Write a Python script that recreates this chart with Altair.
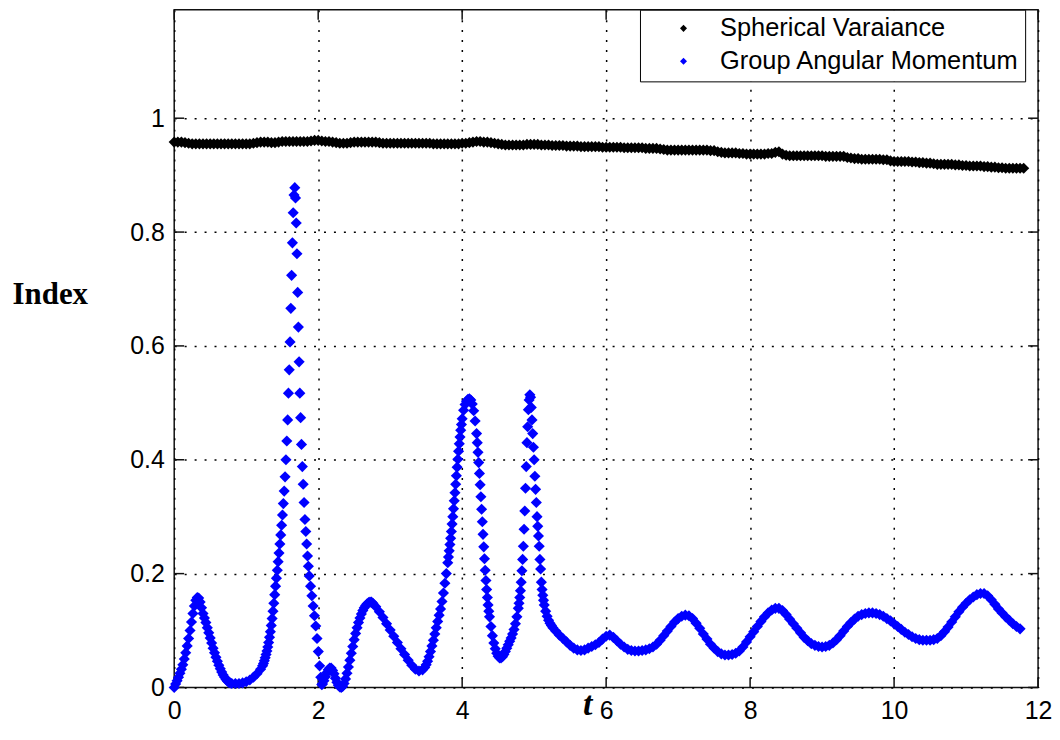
import altair as alt
import pandas as pd

# ---------------- data ----------------
SERIES = ["Spherical Varaiance", "Group Angular Momentum"]
SERIES_COLORS = ["#000000", "#0000ff"]
X_TICKS = [0, 2, 4, 6, 8, 10, 12]
Y_TICKS = [0, 0.2, 0.4, 0.6, 0.8, 1.0]

# Spherical Varaiance (black), pairs (t, value)
SV_POINTS = [
    (0.00, 0.958), (0.05, 0.958), (0.10, 0.958), (0.15, 0.957), (0.20, 0.956), (0.25, 0.955), (0.30, 0.955), (0.35, 0.955),
    (0.40, 0.955), (0.45, 0.955), (0.50, 0.955), (0.55, 0.955), (0.60, 0.955), (0.65, 0.955), (0.70, 0.955), (0.75, 0.955),
    (0.80, 0.955), (0.85, 0.955), (0.90, 0.955), (0.95, 0.955), (1.00, 0.955), (1.05, 0.955), (1.10, 0.956), (1.15, 0.957),
    (1.20, 0.958), (1.25, 0.958), (1.30, 0.958), (1.35, 0.957), (1.40, 0.957), (1.45, 0.958), (1.50, 0.959), (1.55, 0.959),
    (1.60, 0.959), (1.65, 0.959), (1.70, 0.959), (1.75, 0.959), (1.80, 0.959), (1.85, 0.959), (1.90, 0.960), (1.95, 0.961),
    (2.00, 0.961), (2.05, 0.960), (2.10, 0.959), (2.15, 0.959), (2.20, 0.958), (2.25, 0.957), (2.30, 0.956), (2.35, 0.956),
    (2.40, 0.956), (2.45, 0.957), (2.50, 0.958), (2.55, 0.958), (2.60, 0.958), (2.65, 0.958), (2.70, 0.958), (2.75, 0.958),
    (2.80, 0.958), (2.85, 0.957), (2.90, 0.956), (2.95, 0.956), (3.00, 0.956), (3.05, 0.956), (3.10, 0.956), (3.15, 0.956),
    (3.20, 0.956), (3.25, 0.956), (3.30, 0.956), (3.35, 0.956), (3.40, 0.956), (3.45, 0.956), (3.50, 0.956), (3.55, 0.956),
    (3.60, 0.955), (3.65, 0.955), (3.70, 0.955), (3.75, 0.955), (3.80, 0.955), (3.85, 0.955), (3.90, 0.955), (3.95, 0.955),
    (4.00, 0.956), (4.05, 0.956), (4.10, 0.957), (4.15, 0.958), (4.20, 0.959), (4.25, 0.959), (4.30, 0.958), (4.35, 0.958),
    (4.40, 0.957), (4.45, 0.956), (4.50, 0.955), (4.55, 0.954), (4.60, 0.953), (4.65, 0.953), (4.70, 0.953), (4.75, 0.953),
    (4.80, 0.953), (4.85, 0.953), (4.90, 0.954), (4.95, 0.954), (5.00, 0.954), (5.05, 0.954), (5.10, 0.953), (5.15, 0.953),
    (5.20, 0.953), (5.25, 0.952), (5.30, 0.952), (5.35, 0.952), (5.40, 0.952), (5.45, 0.951), (5.50, 0.951), (5.55, 0.951),
    (5.60, 0.951), (5.65, 0.950), (5.70, 0.950), (5.75, 0.950), (5.80, 0.950), (5.85, 0.950), (5.90, 0.950), (5.95, 0.949),
    (6.00, 0.949), (6.05, 0.949), (6.10, 0.949), (6.15, 0.949), (6.20, 0.949), (6.25, 0.948), (6.30, 0.948), (6.35, 0.948),
    (6.40, 0.948), (6.45, 0.948), (6.50, 0.948), (6.55, 0.947), (6.60, 0.947), (6.65, 0.947), (6.70, 0.947), (6.75, 0.946),
    (6.80, 0.945), (6.85, 0.944), (6.90, 0.944), (6.95, 0.944), (7.00, 0.944), (7.05, 0.944), (7.10, 0.944), (7.15, 0.944),
    (7.20, 0.944), (7.25, 0.944), (7.30, 0.944), (7.35, 0.944), (7.40, 0.944), (7.45, 0.943), (7.50, 0.943), (7.55, 0.941),
    (7.60, 0.940), (7.65, 0.939), (7.70, 0.939), (7.75, 0.939), (7.80, 0.939), (7.85, 0.938), (7.90, 0.938), (7.95, 0.937),
    (8.00, 0.937), (8.05, 0.937), (8.10, 0.937), (8.15, 0.937), (8.20, 0.937), (8.25, 0.938), (8.30, 0.938), (8.35, 0.940),
    (8.40, 0.941), (8.45, 0.937), (8.50, 0.935), (8.55, 0.934), (8.60, 0.934), (8.65, 0.934), (8.70, 0.934), (8.75, 0.934),
    (8.80, 0.934), (8.85, 0.934), (8.90, 0.934), (8.95, 0.934), (9.00, 0.934), (9.05, 0.933), (9.10, 0.933), (9.15, 0.933),
    (9.20, 0.933), (9.25, 0.933), (9.30, 0.933), (9.35, 0.931), (9.40, 0.930), (9.45, 0.929), (9.50, 0.929), (9.55, 0.928),
    (9.60, 0.928), (9.65, 0.928), (9.70, 0.928), (9.75, 0.928), (9.80, 0.928), (9.85, 0.927), (9.90, 0.927), (9.95, 0.925),
    (10.00, 0.924), (10.05, 0.924), (10.10, 0.924), (10.15, 0.924), (10.20, 0.924), (10.25, 0.923), (10.30, 0.923), (10.35, 0.922),
    (10.40, 0.922), (10.45, 0.921), (10.50, 0.921), (10.55, 0.920), (10.60, 0.919), (10.65, 0.919), (10.70, 0.919), (10.75, 0.919),
    (10.80, 0.919), (10.85, 0.918), (10.90, 0.918), (10.95, 0.917), (11.00, 0.917), (11.05, 0.916), (11.10, 0.916), (11.15, 0.916),
    (11.20, 0.916), (11.25, 0.915), (11.30, 0.915), (11.35, 0.914), (11.40, 0.914), (11.45, 0.913), (11.50, 0.913), (11.55, 0.912),
    (11.60, 0.912), (11.65, 0.912), (11.70, 0.912), (11.75, 0.912), (11.80, 0.912),
]

# Group Angular Momentum (blue), pairs (t, value), in segments
GAM_SEG1 = [
    (0.00, 0.000), (0.02, 0.006), (0.04, 0.012), (0.06, 0.018), (0.08, 0.025),
    (0.10, 0.032), (0.12, 0.040), (0.14, 0.050), (0.16, 0.061), (0.18, 0.073),
    (0.20, 0.086), (0.22, 0.100), (0.24, 0.115), (0.26, 0.130), (0.28, 0.143),
    (0.30, 0.153), (0.32, 0.158), (0.34, 0.157), (0.36, 0.150), (0.38, 0.140),
    (0.40, 0.130), (0.42, 0.122), (0.44, 0.114), (0.46, 0.105), (0.48, 0.096),
    (0.50, 0.087), (0.52, 0.078), (0.54, 0.069), (0.56, 0.061), (0.58, 0.053),
    (0.60, 0.046), (0.62, 0.039), (0.64, 0.033), (0.66, 0.027), (0.68, 0.022),
    (0.70, 0.018), (0.72, 0.014), (0.74, 0.011), (0.76, 0.009), (0.78, 0.008),
    (0.80, 0.007), (0.85, 0.007), (0.90, 0.007), (0.95, 0.008), (1.00, 0.010),
    (1.05, 0.013), (1.10, 0.018), (1.15, 0.024), (1.20, 0.032),
]
GAM_SEG2 = [
    (1.228, 0.038), (1.240, 0.042), (1.252, 0.047), (1.264, 0.052), (1.276, 0.058),
    (1.288, 0.064), (1.300, 0.071), (1.312, 0.079), (1.324, 0.088), (1.336, 0.098),
    (1.348, 0.109), (1.360, 0.121), (1.372, 0.134), (1.384, 0.148), (1.396, 0.163),
    (1.408, 0.178), (1.420, 0.192), (1.432, 0.206), (1.444, 0.221), (1.456, 0.236),
    (1.468, 0.252), (1.480, 0.268), (1.492, 0.285), (1.504, 0.303), (1.516, 0.323),
    (1.528, 0.345), (1.540, 0.370), (1.552, 0.400), (1.564, 0.433), (1.576, 0.470),
    (1.587, 0.517), (1.598, 0.558), (1.609, 0.607), (1.620, 0.666), (1.631, 0.724),
    (1.642, 0.781), (1.653, 0.834), (1.664, 0.865), (1.675, 0.878),
    (1.685, 0.860), (1.695, 0.816), (1.705, 0.762), (1.715, 0.694), (1.725, 0.633),
    (1.735, 0.572), (1.745, 0.517), (1.756, 0.474), (1.768, 0.427), (1.780, 0.388),
    (1.792, 0.357), (1.804, 0.325), (1.816, 0.295), (1.828, 0.274), (1.840, 0.252),
    (1.852, 0.231), (1.864, 0.213), (1.876, 0.196), (1.894, 0.178), (1.912, 0.161),
    (1.930, 0.143), (1.948, 0.126), (1.966, 0.108), (1.984, 0.086), (2.002, 0.063),
    (2.020, 0.038), (2.036, 0.018), (2.050, 0.005),
]
GAM_SEG3 = [
    (2.06, 0.006), (2.08, 0.012), (2.10, 0.019), (2.12, 0.026), (2.14, 0.031),
    (2.16, 0.034), (2.18, 0.034), (2.20, 0.030), (2.22, 0.024), (2.24, 0.016),
    (2.26, 0.009), (2.28, 0.004), (2.30, 0.001), (2.32, 0.000), (2.34, 0.002),
    (2.36, 0.007), (2.38, 0.015), (2.40, 0.025), (2.42, 0.036), (2.44, 0.048),
    (2.46, 0.060), (2.48, 0.072), (2.50, 0.084), (2.52, 0.095), (2.54, 0.105),
    (2.56, 0.114), (2.58, 0.122), (2.60, 0.129), (2.62, 0.135), (2.64, 0.140),
    (2.66, 0.144), (2.68, 0.147), (2.70, 0.149), (2.72, 0.150), (2.74, 0.150),
    (2.76, 0.148), (2.80, 0.142), (2.85, 0.133), (2.90, 0.123), (2.95, 0.112),
    (3.00, 0.101), (3.05, 0.090), (3.10, 0.079), (3.15, 0.068), (3.20, 0.058),
    (3.25, 0.048), (3.30, 0.039), (3.35, 0.032), (3.40, 0.029), (3.45, 0.031),
]
GAM_SEG4 = [
    (3.48, 0.035), (3.50, 0.040), (3.52, 0.046), (3.54, 0.054), (3.56, 0.063),
    (3.58, 0.073), (3.60, 0.083), (3.62, 0.094), (3.64, 0.105), (3.66, 0.116),
    (3.68, 0.127), (3.70, 0.138), (3.72, 0.151), (3.74, 0.166), (3.76, 0.183),
    (3.78, 0.200), (3.80, 0.219), (3.81, 0.229), (3.82, 0.240), (3.83, 0.251),
    (3.84, 0.262), (3.85, 0.274), (3.86, 0.287), (3.87, 0.300), (3.88, 0.314),
    (3.89, 0.328), (3.90, 0.342), (3.91, 0.357), (3.92, 0.372), (3.93, 0.387),
    (3.94, 0.401), (3.95, 0.415), (3.96, 0.428), (3.97, 0.440), (3.98, 0.452),
    (3.99, 0.462), (4.00, 0.472), (4.02, 0.487), (4.04, 0.497), (4.06, 0.503),
    (4.08, 0.506), (4.10, 0.507), (4.12, 0.505), (4.14, 0.498), (4.16, 0.486),
    (4.18, 0.468), (4.20, 0.446), (4.21, 0.430), (4.22, 0.413), (4.23, 0.395),
    (4.24, 0.376), (4.25, 0.356), (4.26, 0.335), (4.27, 0.313), (4.28, 0.291),
    (4.29, 0.269), (4.30, 0.247), (4.31, 0.226), (4.32, 0.206), (4.33, 0.188),
    (4.34, 0.172), (4.35, 0.158), (4.36, 0.145), (4.37, 0.134), (4.38, 0.124),
    (4.40, 0.107), (4.42, 0.091), (4.44, 0.078), (4.46, 0.068), (4.48, 0.060),
    (4.50, 0.055), (4.52, 0.052), (4.54, 0.052), (4.56, 0.054),
]
GAM_SEG5 = [
    (4.58, 0.058), (4.60, 0.063), (4.62, 0.069), (4.64, 0.075), (4.66, 0.081),
    (4.68, 0.087), (4.70, 0.094), (4.72, 0.102), (4.74, 0.112), (4.76, 0.124),
    (4.78, 0.139), (4.79, 0.148), (4.80, 0.158), (4.81, 0.170), (4.82, 0.185),
    (4.83, 0.205), (4.84, 0.225), (4.85, 0.248), (4.86, 0.278), (4.87, 0.310),
    (4.88, 0.350), (4.89, 0.388), (4.90, 0.430), (4.91, 0.458), (4.92, 0.488),
    (4.93, 0.505), (4.94, 0.514), (4.95, 0.510), (4.96, 0.492), (4.97, 0.470),
    (4.98, 0.446), (4.99, 0.422), (5.00, 0.400), (5.01, 0.371), (5.02, 0.348),
    (5.03, 0.325), (5.04, 0.300), (5.05, 0.283), (5.06, 0.266), (5.07, 0.248),
    (5.08, 0.225), (5.09, 0.208), (5.10, 0.185), (5.11, 0.172), (5.12, 0.162),
    (5.13, 0.153), (5.14, 0.145), (5.16, 0.134), (5.18, 0.125), (5.20, 0.118),
    (5.22, 0.113), (5.24, 0.109), (5.26, 0.105),
]
GAM_SEG6 = [
    (5.30, 0.099), (5.35, 0.092), (5.40, 0.086), (5.45, 0.080), (5.50, 0.074),
    (5.55, 0.069), (5.60, 0.066), (5.65, 0.065), (5.70, 0.066), (5.75, 0.069),
    (5.80, 0.072), (5.85, 0.075), (5.90, 0.079), (5.95, 0.085), (6.00, 0.090),
    (6.05, 0.092), (6.10, 0.088), (6.15, 0.082), (6.20, 0.076), (6.25, 0.071),
    (6.30, 0.067), (6.35, 0.065), (6.40, 0.064), (6.45, 0.064), (6.50, 0.065),
    (6.55, 0.066), (6.60, 0.068), (6.65, 0.071), (6.70, 0.076), (6.75, 0.083),
    (6.80, 0.091), (6.85, 0.099), (6.90, 0.107), (6.95, 0.115), (7.00, 0.121),
    (7.05, 0.125), (7.10, 0.127), (7.15, 0.126), (7.20, 0.121), (7.25, 0.113),
    (7.30, 0.104), (7.35, 0.094), (7.40, 0.085), (7.45, 0.076), (7.50, 0.069),
    (7.55, 0.063), (7.60, 0.059), (7.65, 0.057), (7.70, 0.057), (7.75, 0.058),
    (7.80, 0.060), (7.85, 0.064), (7.90, 0.071), (7.95, 0.080), (8.00, 0.089),
    (8.05, 0.098), (8.10, 0.107), (8.15, 0.116), (8.20, 0.124), (8.25, 0.131),
    (8.30, 0.136), (8.35, 0.139), (8.40, 0.139), (8.45, 0.135), (8.50, 0.128),
    (8.55, 0.120), (8.60, 0.112), (8.65, 0.104), (8.70, 0.096), (8.75, 0.088),
    (8.80, 0.082), (8.85, 0.077), (8.90, 0.074), (8.95, 0.072), (9.00, 0.071),
]
GAM_SEG7 = [
    (9.05, 0.072), (9.10, 0.074), (9.15, 0.078), (9.20, 0.084), (9.25, 0.091),
    (9.30, 0.099), (9.35, 0.107), (9.40, 0.114), (9.45, 0.120), (9.50, 0.125),
    (9.55, 0.128), (9.60, 0.130), (9.65, 0.131), (9.70, 0.131), (9.75, 0.130),
    (9.80, 0.128), (9.85, 0.125), (9.90, 0.121), (9.95, 0.117), (10.00, 0.112),
    (10.05, 0.107), (10.10, 0.102), (10.15, 0.097), (10.20, 0.093), (10.25, 0.089),
    (10.30, 0.086), (10.35, 0.084), (10.40, 0.083), (10.45, 0.083), (10.50, 0.083),
    (10.55, 0.084), (10.60, 0.086), (10.65, 0.091), (10.70, 0.098), (10.75, 0.106),
    (10.80, 0.115), (10.85, 0.124), (10.90, 0.133), (10.95, 0.141), (11.00, 0.148),
    (11.05, 0.154), (11.10, 0.159), (11.15, 0.163), (11.20, 0.165), (11.25, 0.165),
    (11.30, 0.161), (11.35, 0.154), (11.40, 0.146), (11.45, 0.138), (11.50, 0.131),
    (11.55, 0.124), (11.60, 0.118), (11.65, 0.112), (11.70, 0.107), (11.75, 0.103),
]
GAM_POINTS = GAM_SEG1 + GAM_SEG2 + GAM_SEG3 + GAM_SEG4 + GAM_SEG5 + GAM_SEG6 + GAM_SEG7

# ---------------- table ----------------
rows = [{"t": t, "v": v, "series": SERIES[0]} for t, v in SV_POINTS]
rows += [{"t": t, "v": v, "series": SERIES[1]} for t, v in GAM_POINTS]
df = pd.DataFrame(rows)
xticks_df = pd.DataFrame({"t": X_TICKS})
yticks_df = pd.DataFrame({"v": Y_TICKS})

W, H = 868, 681
TICK_LEN = 10

x_scale = alt.Scale(domain=[0, 12], nice=False, zero=False)
y_scale = alt.Scale(domain=[0, 1.1906], nice=False, zero=False)

x_axis = alt.Axis(
    values=X_TICKS, format="d", title="t",
    grid=True, gridColor="black", gridDash=[2, 8], gridWidth=1.5,
    domain=False, ticks=False, tickSize=0,
    labelFont="Liberation Sans", labelFontSize=25, labelColor="black",
    labelPadding=11, labelFlush=False, labelOverlap=False,
    titleFont="Liberation Serif", titleFontSize=34, titleFontWeight="bold",
    titleFontStyle="italic", titleColor="black",
    titleX=415, titleY=27, titleAlign="center", titleBaseline="alphabetic",
)
y_axis = alt.Axis(
    values=Y_TICKS, format="~g", title="Index",
    grid=True, gridColor="black", gridDash=[2, 8], gridWidth=1.5,
    domain=False, ticks=False, tickSize=0,
    labelFont="Liberation Sans", labelFontSize=25, labelColor="black",
    labelPadding=10, labelFlush=False, labelOverlap=False, labelBaseline="middle",
    titleFont="Liberation Serif", titleFontSize=31, titleFontWeight="bold",
    titleColor="black", titleAngle=0,
    titleX=-125, titleY=295, titleAlign="center", titleBaseline="alphabetic",
)

X = alt.X("t:Q", scale=x_scale, axis=x_axis)
Y = alt.Y("v:Q", scale=y_scale, axis=y_axis)

legend = alt.Legend(
    title=None, orient="none", legendX=468, legendY=0,
    padding=6, rowPadding=6,
    symbolType="diamond", symbolSize=50, symbolStrokeWidth=0,
    symbolOffset=25, labelOffset=24,
    labelFont="Liberation Sans", labelFontSize=25.5, labelColor="black",
    labelLimit=600, labelExpr="datum.label + '\u00a0\u00a0\u00a0'",
    fillColor="white", strokeColor="black", cornerRadius=0,
)

points = alt.Chart(df).mark_point(
    filled=True, shape="diamond", size=125, opacity=1, strokeWidth=0
).encode(
    x=X, y=Y,
    color=alt.Color("series:N", scale=alt.Scale(domain=SERIES, range=SERIES_COLORS),
                    legend=legend),
)

tick_style = dict(color="#111111", strokeWidth=1.5)
bottom_ticks = alt.Chart(xticks_df).mark_rule(**tick_style).encode(
    x=X, y=alt.value(H), y2=alt.value(H - TICK_LEN))
top_ticks = alt.Chart(xticks_df).mark_rule(**tick_style).encode(
    x=X, y=alt.value(0), y2=alt.value(TICK_LEN))
left_ticks = alt.Chart(yticks_df).mark_rule(**tick_style).encode(
    y=Y, x=alt.value(0), x2=alt.value(TICK_LEN))
right_ticks = alt.Chart(yticks_df).mark_rule(**tick_style).encode(
    y=Y, x=alt.value(W - TICK_LEN), x2=alt.value(W))

chart = alt.layer(
    bottom_ticks, top_ticks, left_ticks, right_ticks, points
).properties(
    width=W, height=H,
    autosize=alt.AutoSizeParams(type="none"),
    padding={"left": 167, "top": 0, "right": 14, "bottom": 35},
    background="white",
).configure_view(
    stroke="#111111", strokeWidth=1.5, fill="white"
)

chart.save("out.html", embed_options={"renderer": "svg", "actions": False})
